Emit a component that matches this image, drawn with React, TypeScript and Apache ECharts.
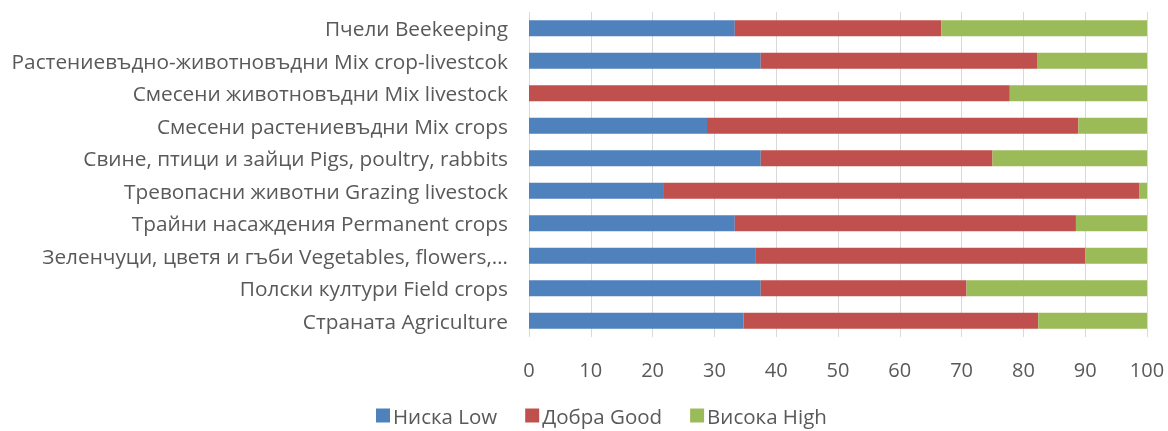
import React, { useEffect, useRef } from "react";
import * as echarts from "echarts";

const categories = [
  "Страната Agriculture",
  "Полски култури Field crops",
  "Зеленчуци, цветя и гъби Vegetables, flowers,…",
  "Трайни насаждения Permanent crops",
  "Тревопасни животни Grazing livestock",
  "Свине, птици и зайци Pigs, poultry, rabbits",
  "Смесени растениевъдни Mix crops",
  "Смесени животновъдни Mix livestock",
  "Растениевъдно-животновъдни Mix crop-livestcok",
  "Пчели Beekeeping",
];
const lowValues = [34.7, 37.5, 36.6, 33.3, 21.7, 37.5, 28.8, 0, 37.5, 33.3];
const goodValues = [47.7, 33.3, 53.4, 55.2, 77.1, 37.5, 60.1, 77.8, 44.7, 33.4];
const highValues = [17.6, 29.2, 10.0, 11.5, 1.2, 25.0, 11.1, 22.2, 17.8, 33.3];
const seriesNames = ["Ниска Low", "Добра Good", "Висока High"];
const colors = ["#4F81BD", "#C0504D", "#9BBB59"];

export default function App() {
  const ref = useRef<HTMLDivElement>(null);
  useEffect(() => {
    if (!ref.current) return;
    const chart = echarts.init(ref.current, null, { renderer: "svg" });
    const font = "'Open Sans', 'Noto Sans', sans-serif";
    const data = [lowValues, goodValues, highValues];
    chart.setOption({
      animation: false,
      textStyle: { fontFamily: font },
      grid: { left: 529, right: 21, top: 12, bottom: 94, containLabel: false },
      legend: {
        bottom: 0,
        left: 371,
        itemWidth: 14,
        itemHeight: 14,
        itemGap: 28,
        icon: "rect",
        textStyle: { color: "#595959", fontSize: 20.5, lineHeight: 20, fontFamily: font, padding: [0, 0, 0, -2] },
        data: seriesNames,
      },
      xAxis: {
        type: "value",
        min: 0,
        max: 100,
        interval: 10,
        axisLine: { show: false },
        axisTick: { show: false },
        splitLine: { show: true, lineStyle: { color: "#D9D9D9", width: 1 } },
        axisLabel: { color: "#595959", fontSize: 20, margin: 22, fontFamily: font },
      },
      yAxis: {
        type: "category",
        data: categories,
        axisLine: { show: false },
        axisTick: { show: false },
        axisLabel: { color: "#595959", fontSize: 20.8, margin: 21, fontFamily: font },
      },
      series: seriesNames.map((name, i) => ({
        name,
        type: "bar",
        stack: "total",
        barWidth: 16,
        itemStyle: { color: colors[i] },
        data: data[i],
      })),
    });
    return () => chart.dispose();
  }, []);
  return (
    <div
      ref={ref}
      style={{ position: "fixed", left: 0, top: 0, width: 1168, height: 431 }}
    />
  );
}
